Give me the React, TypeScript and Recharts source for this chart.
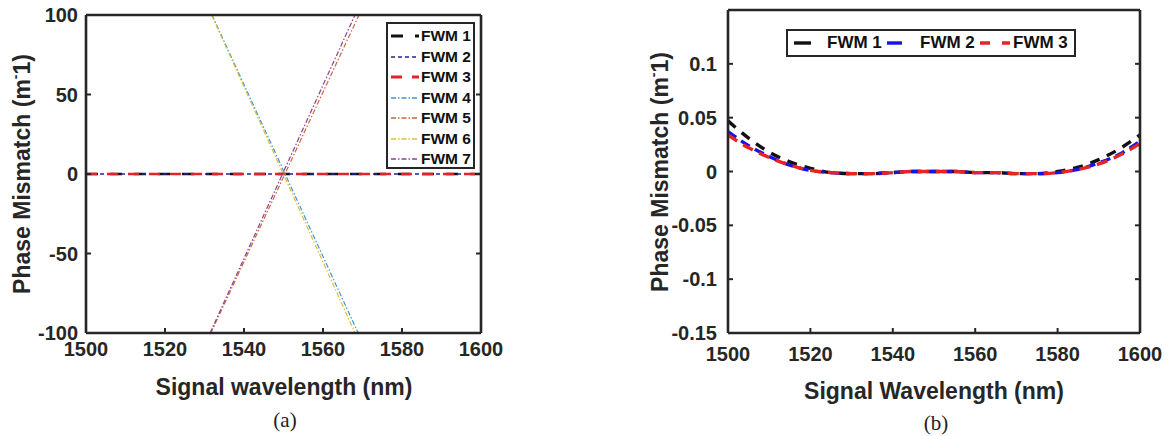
import { LineChart, Line, XAxis, YAxis } from 'recharts';

const FONT = '"Liberation Sans", Arial, sans-serif';
const INK = '#262626';

// panel (a): phase mismatch vs signal wavelength
const flatX = [1500, 1600];
const fwm1A = [0, 0];
const fwm2A = [0, 0];
const fwm3A = [0, 0];
const fwm4X = [1531.9, 1568.9];
const fwm4A = [100, -100];
const fwm5X = [1531.6, 1569.1];
const fwm5A = [-100, 100];
const fwm6X = [1531.8, 1568.1];
const fwm6A = [100, -100];
const fwm7X = [1531.4, 1568.1];
const fwm7A = [-100, 100];

const xTicks = [1500, 1520, 1540, 1560, 1580, 1600];
const yTicksA = [-100, -50, 0, 50, 100];

// panel (b)
const wavelengthB = [1500, 1505, 1510, 1515, 1520, 1525, 1530, 1535, 1540, 1545, 1550, 1555, 1560, 1565, 1570, 1575, 1580, 1585, 1590, 1595, 1600];
const fwm1B = [0.047, 0.031, 0.018, 0.009, 0.003, -0.001, -0.002, -0.002, -0.001, 0, 0, 0, -0.001, -0.001, -0.002, -0.002, 0, 0.004, 0.011, 0.021, 0.034];
const fwm2B = [0.037, 0.024, 0.014, 0.006, 0.001, -0.001, -0.002, -0.002, -0.001, 0, 0, 0, -0.001, -0.001, -0.002, -0.002, -0.001, 0.002, 0.008, 0.016, 0.028];
const fwm3B = [0.034, 0.022, 0.013, 0.006, 0.001, -0.001, -0.002, -0.002, -0.001, 0, 0, 0, -0.001, -0.001, -0.002, -0.002, -0.001, 0.002, 0.007, 0.015, 0.026];
const yTicksB = [-0.15, -0.1, -0.05, 0, 0.05, 0.1];

const pts = (xs: number[], ys: number[]) => xs.map((x, i) => ({ x, y: ys[i] }));

const seriesA = [
  { name: 'FWM 1', data: pts(flatX, fwm1A), color: '#111111', width: 2.6, dash: '12 12' },
  { name: 'FWM 2', data: pts(flatX, fwm2A), color: '#23239a', width: 1.3, dash: '4 3' },
  { name: 'FWM 3', data: pts(flatX, fwm3A), color: '#e3232a', width: 2.6, dash: '11 10' },
  { name: 'FWM 4', data: pts(fwm4X, fwm4A), color: '#3d98d3', width: 1.2, dash: '5 2 1.5 2' },
  { name: 'FWM 5', data: pts(fwm5X, fwm5A), color: '#c66a3d', width: 1.2, dash: '5 2 1.5 2' },
  { name: 'FWM 6', data: pts(fwm6X, fwm6A), color: '#e2bd3a', width: 1.2, dash: '5 2 1.5 2' },
  { name: 'FWM 7', data: pts(fwm7X, fwm7A), color: '#8b3f97', width: 1.2, dash: '5 2 1.5 2' },
];

const seriesB = [
  { name: 'FWM 1', data: pts(wavelengthB, fwm1B), color: '#111111', dash: '10 8', sample: '17 15' },
  { name: 'FWM 2', data: pts(wavelengthB, fwm2B), color: '#1414e6', dash: '10 6', sample: '15 15' },
  { name: 'FWM 3', data: pts(wavelengthB, fwm3B), color: '#e82323', dash: '11 7', sample: '10 12' },
];

const tickStyle = { fill: INK, fontSize: 20, fontWeight: 700, fontFamily: FONT };
const axisLine = { stroke: INK, strokeWidth: 2.6 };
const tickLine = { stroke: INK, strokeWidth: 2 };

// box axes (MATLAB style): inward ticks on all four sides, labels only bottom/left
function Frame({ xDomain, yDomain, yTicks, xMargin, yMargin }: any) {
  return [
    <XAxis key="xb" xAxisId={0} type="number" dataKey="x" domain={xDomain} ticks={xTicks} allowDataOverflow
      height={1} tickSize={-5} tickMargin={xMargin} tick={tickStyle} axisLine={axisLine} tickLine={tickLine} />,
    <XAxis key="xt" xAxisId="top" orientation="top" type="number" domain={xDomain} ticks={xTicks} allowDataOverflow
      height={1} tickSize={-5} tickFormatter={() => ''} axisLine={axisLine} tickLine={tickLine} />,
    <YAxis key="yl" yAxisId={0} type="number" domain={yDomain} ticks={yTicks} allowDataOverflow
      width={1} tickSize={-5} tickMargin={yMargin} tick={tickStyle} axisLine={axisLine} tickLine={tickLine} />,
    <YAxis key="yr" yAxisId="right" orientation="right" type="number" domain={yDomain} ticks={yTicks} allowDataOverflow
      width={1} tickSize={-5} tickFormatter={() => ''} axisLine={axisLine} tickLine={tickLine} />,
  ];
}

const titleStyle: React.CSSProperties = {
  position: 'absolute', fontFamily: FONT, fontWeight: 700, fontSize: 23, color: INK,
  whiteSpace: 'nowrap', transform: 'translate(-50%, -50%)',
};
const yTitleStyle: React.CSSProperties = { ...titleStyle, transform: 'translate(-50%, -50%) rotate(-90deg)' };
const captionStyle: React.CSSProperties = {
  position: 'absolute', fontFamily: '"Liberation Serif", "Times New Roman", serif', fontSize: 21,
  color: '#222', transform: 'translate(-50%, -50%)',
};

const YLabel = () => (
  <>Phase Mismatch (m<sup style={{ fontSize: '0.6em', verticalAlign: '0.7em' }}>-</sup>1)</>
);

export default function App() {
  return (
    <div style={{ position: 'absolute', left: 0, top: 0, width: 1174, height: 436, background: '#fff', overflow: 'hidden' }}>
      {/* (a) */}
      <div style={{ position: 'absolute', left: 0, top: 0 }}>
        <LineChart width={560} height={436} margin={{ top: 14, right: 78, bottom: 102, left: 85 }}>
          {Frame({ xDomain: [1500, 1600], yDomain: [-100, 100], yTicks: yTicksA, xMargin: 14, yMargin: 13 })}
          {seriesA.map(s => (
            <Line key={s.name} data={s.data} dataKey="y" type="linear" stroke={s.color} strokeWidth={s.width}
              strokeDasharray={s.dash} dot={false} activeDot={false} isAnimationActive={false} />
          ))}
        </LineChart>
      </div>
      <div style={{
        position: 'absolute', left: 386, top: 22, width: 82, height: 141, background: '#fff',
        border: `2.5px solid ${INK}`, padding: '2px 0 0 3px',
      }}>
        {seriesA.map(s => (
          <div key={s.name} style={{ display: 'flex', alignItems: 'center', height: 20.5 }}>
            <svg width={28} height={10} style={{ flexShrink: 0 }}>
              <line x1={0} y1={5} x2={28} y2={5} stroke={s.color} strokeWidth={s.width + 0.4} strokeDasharray={s.dash} />
            </svg>
            <span style={{ fontFamily: FONT, fontWeight: 700, fontSize: 15.5, color: '#111', marginLeft: 2 }}>{s.name}</span>
          </div>
        ))}
      </div>
      <div style={{ ...yTitleStyle, left: 22, top: 174 }}><YLabel /></div>
      <div style={{ ...titleStyle, left: 284, top: 387 }}>Signal wavelength (nm)</div>
      <div style={{ ...captionStyle, left: 285, top: 420 }}>(a)</div>

      {/* (b) */}
      <div style={{ position: 'absolute', left: 580, top: 0 }}>
        <LineChart width={594} height={436} margin={{ top: 9, right: 33, bottom: 102, left: 147 }}>
          {Frame({ xDomain: [1500, 1600], yDomain: [-0.15, 0.15], yTicks: yTicksB, xMargin: 19, yMargin: 16 })}
          {seriesB.map(s => (
            <Line key={s.name} data={s.data} dataKey="y" type="monotone" stroke={s.color} strokeWidth={3.4}
              strokeDasharray={s.dash} dot={false} activeDot={false} isAnimationActive={false} />
          ))}
        </LineChart>
      </div>
      <div style={{
        position: 'absolute', left: 786, top: 29, width: 280, height: 24, background: '#fff',
        border: `2.5px solid ${INK}`, display: 'flex', alignItems: 'center', paddingLeft: 6, boxSizing: 'content-box',
      }}>
        {seriesB.map(s => (
          <div key={s.name} style={{ display: 'flex', alignItems: 'center', marginRight: 5 }}>
            <svg width={30} height={10} style={{ flexShrink: 0 }}>
              <line x1={0} y1={5} x2={30} y2={5} stroke={s.color} strokeWidth={3.4} strokeDasharray={s.sample} />
            </svg>
            <span style={{ fontFamily: FONT, fontWeight: 700, fontSize: 17, color: '#111', marginLeft: 3, width: 55 }}>{s.name}</span>
          </div>
        ))}
      </div>
      <div style={{ ...yTitleStyle, left: 660, top: 172 }}><YLabel /></div>
      <div style={{ ...titleStyle, left: 934, top: 391 }}>Signal Wavelength (nm)</div>
      <div style={{ ...captionStyle, left: 936, top: 423 }}>(b)</div>
    </div>
  );
}
